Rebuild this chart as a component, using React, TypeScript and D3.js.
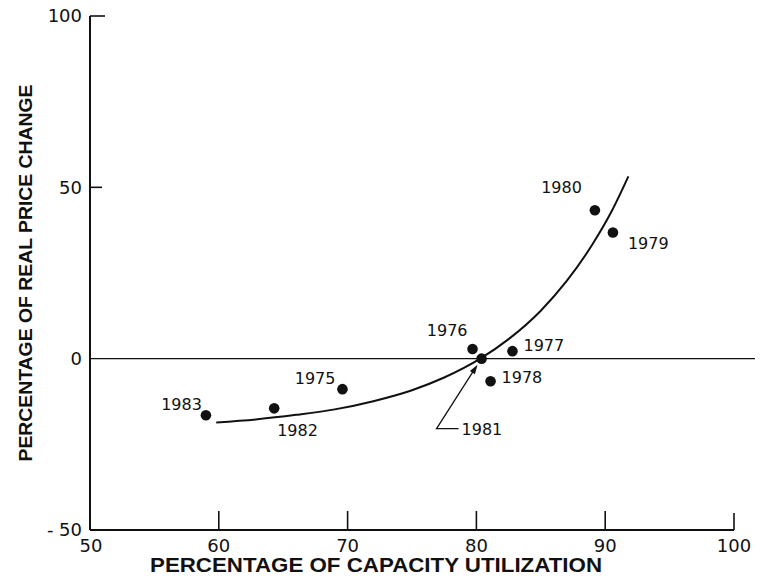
import React, { useRef, useEffect } from 'react';
import * as d3 from 'd3';

// yearly observations: capacity utilization (%) vs real price change (%)
const years: string[] = ['1975', '1976', '1977', '1978', '1979', '1980', '1981', '1982', '1983'];
const utilization: number[] = [69.6, 79.7, 82.8, 81.1, 90.6, 89.2, 80.4, 64.3, 59.0];
const priceChange: number[] = [-8.9, 2.8, 2.2, -6.6, 36.8, 43.3, 0.0, -14.5, -16.5];

// fitted curve
const curveX: number[] = [59.8, 63, 66, 69, 72, 75, 77.5, 80.3, 82.5, 85, 87, 89, 90.5, 91.8];
const curveY: number[] = [-18.6, -17.7, -16.4, -14.8, -12.4, -9.2, -5.5, 0, 5.7, 14.0, 22.6, 33.3, 43.0, 53.2];

const xTicks: number[] = [50, 60, 70, 80, 90, 100];
const yTicks: number[] = [100, 50, 0, -50];
const yTickLabels: string[] = ['100', '50', '0', '- 50'];

// label placement around each dot (pixels)
const labelPos: Record<string, { dx: number; dy: number; anchor: string }> = {
  '1975': { dx: -7, dy: -5, anchor: 'end' },
  '1976': { dx: -5, dy: -13, anchor: 'end' },
  '1977': { dx: 11, dy: 0, anchor: 'start' },
  '1978': { dx: 11, dy: 2, anchor: 'start' },
  '1979': { dx: 15, dy: 16, anchor: 'start' },
  '1980': { dx: -13, dy: -17, anchor: 'end' },
  '1981': { dx: -20, dy: 76, anchor: 'start' },
  '1982': { dx: 3, dy: 28, anchor: 'start' },
  '1983': { dx: -4, dy: -5, anchor: 'end' },
};

const App: React.FC = () => {
  const svgRef = useRef<SVGSVGElement | null>(null);

  useEffect(() => {
    if (!svgRef.current) return;
    const width = 761;
    const height = 587;
    const ink = '#111';

    const x = d3.scaleLinear().domain([50, 100]).range([90, 734]);
    const y = d3.scaleLinear().domain([-50, 100]).range([530, 16]);

    const svg = d3.select(svgRef.current).attr('width', width).attr('height', height);
    svg.selectAll('*').remove();

    svg.append('rect').attr('width', width).attr('height', height).attr('fill', '#fff');

    // axes
    svg.append('line')
      .attr('x1', x(50)).attr('x2', x(50)).attr('y1', y(100)).attr('y2', y(-50))
      .attr('stroke', ink).attr('stroke-width', 2);
    svg.append('line')
      .attr('x1', x(50)).attr('x2', x(100)).attr('y1', y(-50)).attr('y2', y(-50))
      .attr('stroke', ink).attr('stroke-width', 2);

    // zero line runs past the frame
    svg.append('line')
      .attr('x1', x(50)).attr('x2', 755).attr('y1', y(0)).attr('y2', y(0))
      .attr('stroke', ink).attr('stroke-width', 1.4);

    // y ticks (inward)
    svg.append('g').selectAll('line')
      .data(yTicks.filter(d => d > 0))
      .join('line')
      .attr('x1', x(50)).attr('x2', d => x(50) + (d === 100 ? 15 : 12))
      .attr('y1', d => y(d)).attr('y2', d => y(d))
      .attr('stroke', ink).attr('stroke-width', 1.6);

    svg.append('g').selectAll('text')
      .data(yTicks)
      .join('text')
      .attr('x', x(50) - 8)
      .attr('y', d => y(d))
      .attr('dy', '0.36em')
      .attr('text-anchor', 'end')
      .attr('font-family', 'DejaVu Sans, sans-serif')
      .attr('font-size', 18)
      .attr('fill', ink)
      .text((d, i) => yTickLabels[i]);

    // x ticks (inward)
    svg.append('g').selectAll('line')
      .data(xTicks.filter(d => d > 50))
      .join('line')
      .attr('x1', d => x(d)).attr('x2', d => x(d))
      .attr('y1', y(-50)).attr('y2', d => y(-50) - (d === 100 ? 17 : 19))
      .attr('stroke', ink).attr('stroke-width', 1.6);

    svg.append('g').selectAll('text')
      .data(xTicks)
      .join('text')
      .attr('x', d => x(d) + (d === 50 ? 1 : 0))
      .attr('y', 552)
      .attr('text-anchor', 'middle')
      .attr('font-family', 'DejaVu Sans, sans-serif')
      .attr('font-size', 18)
      .attr('fill', ink)
      .text(d => String(d));

    // axis titles
    svg.append('text')
      .attr('x', 376).attr('y', 572)
      .attr('text-anchor', 'middle')
      .attr('font-family', 'Liberation Sans Narrow, Liberation Sans, Arial, sans-serif')
      .attr('font-weight', 'bold')
      .attr('font-size', 20)
      .attr('textLength', 452)
      .attr('lengthAdjust', 'spacingAndGlyphs')
      .attr('fill', ink)
      .text('PERCENTAGE OF CAPACITY UTILIZATION');

    svg.append('text')
      .attr('transform', 'translate(32,273) rotate(-90)')
      .attr('text-anchor', 'middle')
      .attr('font-family', 'Liberation Sans Narrow, Liberation Sans, Arial, sans-serif')
      .attr('font-weight', 'bold')
      .attr('font-size', 19)
      .attr('textLength', 377)
      .attr('lengthAdjust', 'spacingAndGlyphs')
      .attr('fill', ink)
      .text('PERCENTAGE OF REAL PRICE CHANGE');

    // fitted curve
    const line = d3.line<number>()
      .x((d, i) => x(curveX[i]))
      .y(d => y(d))
      .curve(d3.curveMonotoneX);
    svg.append('path')
      .datum(curveY)
      .attr('fill', 'none')
      .attr('stroke', ink)
      .attr('stroke-width', 2)
      .attr('d', line);

    // dots
    svg.append('g').selectAll('circle')
      .data(years)
      .join('circle')
      .attr('cx', (d, i) => x(utilization[i]))
      .attr('cy', (d, i) => y(priceChange[i]))
      .attr('r', 5.3)
      .attr('fill', ink);

    // year labels
    svg.append('g').selectAll('text')
      .data(years)
      .join('text')
      .attr('x', (d, i) => x(utilization[i]) + labelPos[d].dx)
      .attr('y', (d, i) => y(priceChange[i]) + labelPos[d].dy)
      .attr('text-anchor', d => labelPos[d].anchor)
      .attr('font-family', 'DejaVu Sans, sans-serif')
      .attr('font-size', 16)
      .attr('fill', ink)
      .text(d => d);

    // leader for 1981
    const i81 = years.indexOf('1981');
    const px = x(utilization[i81]);
    const py = y(priceChange[i81]);
    const leader = d3.path();
    leader.moveTo(px - 23, py + 70);
    leader.lineTo(px - 45, py + 70);
    leader.lineTo(px - 6, py + 9);
    svg.append('path')
      .attr('d', leader.toString())
      .attr('fill', 'none')
      .attr('stroke', ink)
      .attr('stroke-width', 1.3);

    // arrowhead
    const ang = Math.atan2(9 - 70, -6 + 45);
    const tipX = px - 4;
    const tipY = py + 6;
    const len = 10;
    const spread = 0.3;
    svg.append('path')
      .attr('d', `M${tipX},${tipY} L${tipX - len * Math.cos(ang - spread)},${tipY - len * Math.sin(ang - spread)} L${tipX - len * Math.cos(ang + spread)},${tipY - len * Math.sin(ang + spread)} Z`)
      .attr('fill', ink);
  }, []);

  return <svg ref={svgRef} style={{ position: 'absolute', left: 0, top: 0 }}></svg>;
};

export default App;
